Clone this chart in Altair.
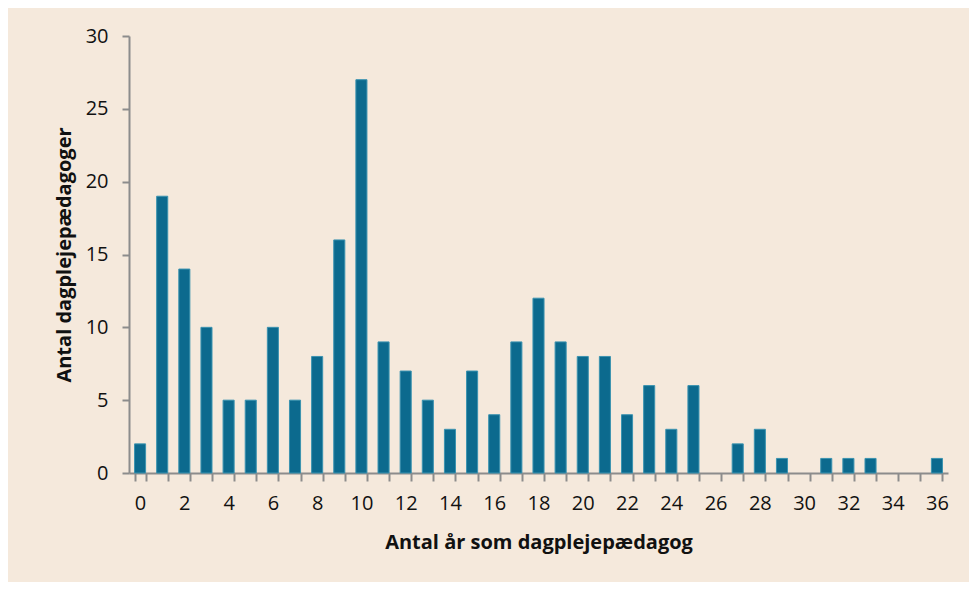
import altair as alt
import pandas as pd

years = list(range(0, 37))
counts = [2, 19, 14, 10, 5, 5, 10, 5, 8, 16, 27, 9, 7, 5, 3, 7, 4, 9, 12, 9,
          8, 8, 4, 6, 3, 6, 0, 2, 3, 1, 0, 1, 1, 1, 0, 0, 1]

df = pd.DataFrame({"year": years, "count": counts})

FONT = "Open Sans"
AXIS_COLOR = "#8c8c8c"

chart = alt.Chart(df).mark_bar(
    color="#0c6a8e", stroke="#3b93b0"
).encode(
    x=alt.X("year:O",
            scale=alt.Scale(paddingInner=0.5, paddingOuter=0.25),
            axis=alt.Axis(title="Antal år som dagplejepædagog",
                          labelAngle=0,
                          labelExpr="datum.value % 2 == 0 ? datum.label : ''",
                          tickBand="extent",
                          tickSize=8,
                          labelPadding=12,
                          titlePadding=19)),
    y=alt.Y("count:Q",
            scale=alt.Scale(domain=[0, 30]),
            axis=alt.Axis(title="Antal dagplejepædagoger",
                          values=[0, 5, 10, 15, 20, 25, 30],
                          grid=False,
                          tickSize=7,
                          labelPadding=14,
                          titlePadding=11)),
    strokeWidth=alt.condition("datum.count > 0", alt.value(1), alt.value(0)),
).properties(
    width=819, height=437,
    background="#f5e9dc",
    padding={"left": 121, "top": 28, "right": 21, "bottom": 109},
    autosize=alt.AutoSizeParams(type="none"),
).configure_view(
    stroke=None
).configure_axis(
    domainColor=AXIS_COLOR, tickColor=AXIS_COLOR, domainWidth=2, tickWidth=2,
    labelFont=FONT, labelFontSize=20, labelColor="#111111",
    titleFont=FONT, titleFontSize=20, titleFontWeight="bold", titleColor="#111111",
)

chart.save("out.html", embed_options={"renderer": "svg", "actions": False})
